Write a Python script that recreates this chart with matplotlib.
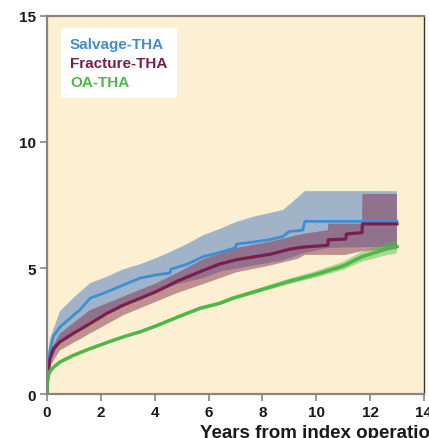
import numpy as np
import matplotlib
matplotlib.use("Agg")
import matplotlib.pyplot as plt

plt.rcParams["font.family"] = ["Liberation Sans", "DejaVu Sans"]

# --- Data (cumulative incidence, %) ---
# Salvage-THA
salv_t = [0, 0.02, 0.11, 0.24, 0.48, 0.85, 1.23, 1.6, 2.22, 2.84, 3.46, 4.07, 4.57, 4.6,
          5.2, 5.8, 6.42, 7.0, 7.04, 7.65, 8.3, 8.76, 9.0, 9.5, 9.58, 13.0]
salv_v = [0, 0.8, 1.76, 2.3, 2.66, 3.0, 3.35, 3.8, 4.05, 4.33, 4.6, 4.73, 4.8, 4.95,
          5.15, 5.45, 5.62, 5.8, 5.95, 6.03, 6.13, 6.25, 6.45, 6.5, 6.85, 6.85]
salv_up_t = [0, 0.02, 0.11, 0.48, 0.97, 1.6, 2.22, 2.84, 3.46, 4.07, 4.6, 5.2, 5.8, 6.42,
             7.04, 7.65, 8.76, 9.1, 9.58, 13.0]
salv_up_v = [0, 1.2, 2.2, 3.28, 3.8, 4.4, 4.65, 4.95, 5.15, 5.4, 5.65, 5.95, 6.3, 6.55,
             6.83, 7.03, 7.3, 7.6, 8.05, 8.05]
salv_lo_t = [0, 0.11, 0.48, 0.97, 1.6, 2.22, 2.84, 3.46, 4.07, 4.82, 5.8, 6.42, 7.65,
             8.76, 9.58, 10.5, 13.0]
salv_lo_v = [0, 1.3, 2.05, 2.45, 2.9, 3.25, 3.55, 3.85, 4.05, 4.35, 4.6, 4.85, 5.1,
             5.3, 5.6, 5.8, 5.85]

# Fracture-THA
frac_t = [0, 0.02, 0.11, 0.24, 0.48, 0.97, 1.6, 2.22, 2.84, 3.46, 4.07, 4.82, 5.68, 6.42,
          7.04, 8.3, 9.03, 9.5, 10.43, 10.45, 11.1, 11.12, 11.7, 11.72, 13.0]
frac_v = [0, 0.6, 1.4, 1.8, 2.07, 2.4, 2.8, 3.2, 3.53, 3.8, 4.07, 4.47, 4.85, 5.16,
          5.33, 5.55, 5.75, 5.83, 5.9, 6.12, 6.15, 6.35, 6.4, 6.75, 6.75]
frac_up_t = [0, 0.02, 0.11, 0.48, 1.6, 2.84, 4.07, 4.82, 5.8, 7.04, 8.3, 9.5, 10.43,
             10.45, 11.7, 11.72, 13.0]
frac_up_v = [0, 0.9, 1.7, 2.4, 3.33, 3.87, 4.4, 4.8, 5.35, 5.8, 6.05, 6.35, 6.5,
             6.76, 6.76, 7.94, 7.94]
frac_lo_t = [0, 0.02, 0.11, 0.48, 1.6, 2.84, 4.07, 4.82, 5.8, 7.04, 8.3, 9.3, 9.58,
             11.1, 11.7, 13.0]
frac_lo_v = [0, 0.4, 1.1, 1.73, 2.4, 3.13, 3.67, 4.0, 4.36, 4.83, 5.1, 5.36, 5.52,
             5.52, 5.67, 5.75]

# OA-THA
oa_t = [0, 0.01, 0.05, 0.11, 0.24, 0.48, 0.97, 1.6, 2.22, 2.84, 3.46, 4.07, 4.82, 5.68,
        6.42, 6.9, 8.0, 8.9, 10.0, 11.0, 11.7, 12.6, 13.0]
oa_v = [0, 0.4, 0.73, 0.9, 1.06, 1.27, 1.53, 1.8, 2.04, 2.27, 2.47, 2.71, 3.04, 3.4,
        3.6, 3.8, 4.15, 4.44, 4.75, 5.08, 5.45, 5.75, 5.85]
oa_up_v = [0, 0.45, 0.78, 0.95, 1.11, 1.32, 1.58, 1.85, 2.09, 2.32, 2.52, 2.77, 3.1, 3.47,
           3.67, 3.88, 4.24, 4.55, 4.88, 5.25, 5.65, 6.0, 6.1]
oa_lo_v = [0, 0.35, 0.68, 0.85, 1.01, 1.22, 1.48, 1.75, 1.99, 2.22, 2.42, 2.65, 2.98, 3.33,
           3.53, 3.72, 4.06, 4.33, 4.62, 4.92, 5.25, 5.5, 5.58]

labels = ["Salvage-THA", "Fracture-THA", "OA-THA"]
line_colors = ["#3d8fd1", "#7b1e4e", "#4cb848"]

fig = plt.figure(figsize=(4.29, 4.39), dpi=100)
ax = fig.add_axes([0.1096, 0.1002, 0.8784, 0.8611])
ax.set_facecolor("#fdefd2")


def band(tu, vu, tl, vl, color, alpha):
    xs = np.r_[tu, np.array(tl)[::-1]]
    ys = np.r_[vu, np.array(vl)[::-1]]
    ax.fill(xs, ys, color=color, alpha=alpha, lw=0)


band(salv_up_t, salv_up_v, salv_lo_t, salv_lo_v, "#648cc3", 0.6)
band(frac_up_t, frac_up_v, frac_lo_t, frac_lo_v, "#823250", 0.5)
band(oa_t, oa_up_v, oa_t, oa_lo_v, "#4cb848", 0.45)

ax.plot(salv_t, salv_v, color=line_colors[0], lw=2)
ax.plot(frac_t, frac_v, color=line_colors[1], lw=2.3)
ax.plot(oa_t, oa_v, color=line_colors[2], lw=2.5)

ax.set_xlim(0, 14)
ax.set_ylim(0, 15)
ax.set_xticks(range(0, 15, 2))
ax.set_yticks([0, 5, 10, 15])

for s in ["left", "bottom", "top"]:
    ax.spines[s].set_color("#8a8580")
    ax.spines[s].set_linewidth(1.6)
ax.spines["right"].set_color("#333333")
ax.spines["right"].set_linewidth(1.0)
ax.tick_params(length=5, width=1.2, color="#8a8580", labelsize=11, pad=3)
for lab in ax.get_xticklabels() + ax.get_yticklabels():
    lab.set_fontweight("bold")
    lab.set_color("#1a1a1a")

# legend box
ax.add_patch(plt.Rectangle((0.036, 0.783), 0.31, 0.186, transform=ax.transAxes,
                           facecolor="white", edgecolor="none", zorder=3))
for i, (lab, col) in enumerate(zip(labels, line_colors)):
    ax.text(0.061, 0.925 - i * 0.05, lab, color=col, fontsize=11, fontweight="bold",
            transform=ax.transAxes, va="center", zorder=4)

fig.text(200 / 429, 1 - 434 / 439, "Years from index operation", fontsize=13.5,
         fontweight="bold", va="center", ha="left", color="#1a1a1a")

fig.savefig("out.png", dpi=100)
